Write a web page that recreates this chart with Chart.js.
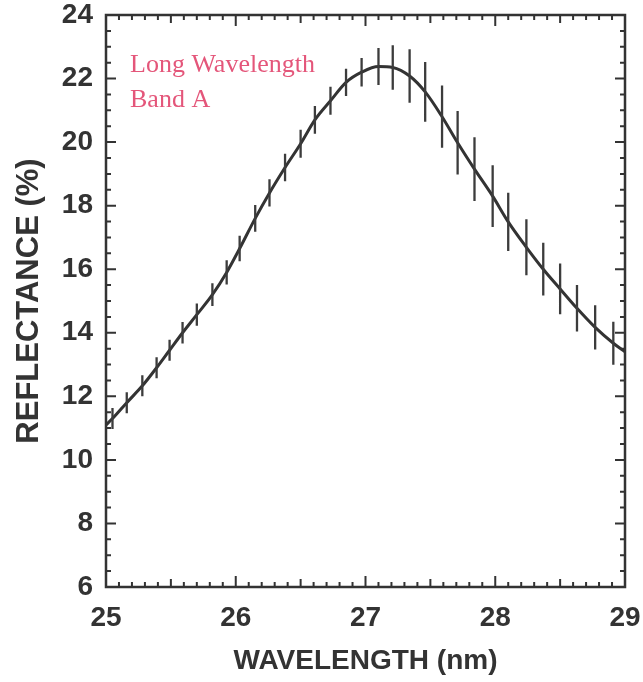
<!DOCTYPE html>
<html>
<head>
<meta charset="utf-8">
<script src="https://cdn.jsdelivr.net/npm/chart.js@4.4.0/dist/chart.umd.min.js"></script>
<style>
    html, body { margin: 0; padding: 0; background: #fff; }
    #wrap { width: 643px; height: 682px; }
</style>
</head>
<body>
<div id="wrap"><canvas id="chart" width="643" height="682"></canvas></div>
<script>
// 측정점 (파장 nm, 반사율 %, 오차 ±%)
const wavelength = [
    25.05, 25.16, 25.28, 25.39, 25.49, 25.59, 25.70, 25.82, 25.93, 26.03,
    26.15, 26.26, 26.38, 26.50, 26.61, 26.73, 26.85, 26.97, 27.10, 27.21,
    27.34, 27.46, 27.59, 27.71, 27.84, 27.98, 28.10, 28.24, 28.37, 28.50,
    28.63, 28.77, 28.91
];
const reflectance = [
    11.30, 11.80, 12.33, 12.90, 13.45, 14.00, 14.57, 15.20, 15.90, 16.65,
    17.60, 18.40, 19.20, 19.95, 20.70, 21.30, 21.88, 22.20, 22.38, 22.35,
    22.08, 21.58, 20.80, 19.98, 19.15, 18.30, 17.49, 16.69, 16.00, 15.38,
    14.77, 14.17, 13.67
];
const errHalf = [
    0.33, 0.33, 0.33, 0.33, 0.33, 0.34, 0.35, 0.36, 0.38, 0.40,
    0.42, 0.43, 0.43, 0.44, 0.44, 0.44, 0.43, 0.45, 0.58, 0.70,
    0.84, 0.94, 0.98, 1.00, 1.00, 0.97, 0.92, 0.88, 0.83, 0.80,
    0.73, 0.70, 0.68
];
// 곡선 양 끝 (축 경계에서 읽은 값)
const curveStart = { x: 25.0, y: 11.10 };
const curveEnd = { x: 29.0, y: 13.40 };

// 축 눈금
const xTickValues = [25, 26, 27, 28, 29];
const yTickValues = [6, 8, 10, 12, 14, 16, 18, 20, 22, 24];
const xMinorStep = 0.1;
const yMinorStep = 0.5;

const noteLines = ['Long Wavelength', 'Band A'];

const INK = '#333333';
const SANS = "'Liberation Sans', Arial, sans-serif";

// 테두리와 안쪽 눈금
const frameTicks = {
    id: 'frameTicks',
    afterDraw(chart) {
        const { ctx, chartArea: a, scales: { x, y } } = chart;
        ctx.save();
        ctx.strokeStyle = INK;
        ctx.lineWidth = 2;
        ctx.beginPath();
        const nx = Math.round((x.max - x.min) / xMinorStep);
        for (let i = 0; i <= nx; i++) {
            const px = x.getPixelForValue(x.min + i * xMinorStep);
            const len = i % 10 === 0 ? 11 : (i % 5 === 0 ? 8 : 5);
            ctx.moveTo(px, a.bottom); ctx.lineTo(px, a.bottom - len);
            ctx.moveTo(px, a.top); ctx.lineTo(px, a.top + len);
        }
        const ny = Math.round((y.max - y.min) / yMinorStep);
        for (let i = 0; i <= ny; i++) {
            const py = y.getPixelForValue(y.min + i * yMinorStep);
            const len = i % 4 === 0 ? 10 : 5;
            ctx.moveTo(a.left, py); ctx.lineTo(a.left + len, py);
            ctx.moveTo(a.right, py); ctx.lineTo(a.right - len, py);
        }
        ctx.stroke();
        ctx.lineWidth = 2.5;
        ctx.strokeRect(a.left, a.top, a.right - a.left, a.bottom - a.top);

        // 주석 텍스트
        ctx.fillStyle = '#e4567a';
        ctx.font = "26px 'Liberation Serif', 'Times New Roman', serif";
        ctx.textAlign = 'left';
        ctx.textBaseline = 'alphabetic';
        noteLines.forEach((t, i) => ctx.fillText(t, a.left + 24, a.top + 57 + i * 35));
        ctx.restore();
    }
};

// 오차 막대
const errorBars = {
    id: 'errorBars',
    afterDatasetsDraw(chart) {
        const { ctx, scales: { x, y } } = chart;
        ctx.save();
        ctx.strokeStyle = '#3c3c3c';
        ctx.lineWidth = 2.3;
        ctx.beginPath();
        wavelength.forEach((w, i) => {
            const px = x.getPixelForValue(w);
            ctx.moveTo(px, y.getPixelForValue(reflectance[i] - errHalf[i]));
            ctx.lineTo(px, y.getPixelForValue(reflectance[i] + errHalf[i]));
        });
        ctx.stroke();
        ctx.restore();
    }
};

const curveData = [curveStart]
    .concat(wavelength.map((w, i) => ({ x: w, y: reflectance[i] })))
    .concat([curveEnd]);

new Chart(document.getElementById('chart'), {
    type: 'scatter',
    data: {
        datasets: [{
            data: curveData,
            showLine: true,
            borderColor: INK,
            borderWidth: 3,
            pointRadius: 0,
            cubicInterpolationMode: 'monotone',
            fill: false
        }]
    },
    options: {
        responsive: false,
        animation: false,
        devicePixelRatio: 1,
        layout: { padding: { left: 0, top: 15, right: 18, bottom: 0 } },
        plugins: { legend: { display: false }, tooltip: { enabled: false } },
        scales: {
            x: {
                type: 'linear',
                min: 25,
                max: 29,
                afterBuildTicks: s => { s.ticks = xTickValues.map(v => ({ value: v })); },
                afterFit: s => { s.height = 95; s.paddingLeft = 0; s.paddingRight = 0; },
                grid: { display: false, drawTicks: false, tickLength: 0 },
                border: { display: false },
                ticks: {
                    color: INK,
                    padding: 14,
                    maxRotation: 0,
                    font: { family: SANS, size: 28, weight: 'bold' }
                },
                title: {
                    display: true,
                    text: 'WAVELENGTH (nm)',
                    color: INK,
                    padding: { top: 0, bottom: 4 },
                    font: { family: SANS, size: 28, weight: 'bold' }
                }
            },
            y: {
                min: 6,
                max: 24,
                afterBuildTicks: s => { s.ticks = yTickValues.map(v => ({ value: v })); },
                afterFit: s => { s.width = 106; s.paddingTop = 0; s.paddingBottom = 0; },
                grid: { display: false, drawTicks: false, tickLength: 0 },
                border: { display: false },
                ticks: {
                    color: INK,
                    padding: 13,
                    font: { family: SANS, size: 28, weight: 'bold' }
                },
                title: {
                    display: true,
                    text: 'REFLECTANCE (%)',
                    color: INK,
                    padding: { top: 11, bottom: 0 },
                    font: { family: SANS, size: 31, weight: 'bold' }
                }
            }
        }
    },
    plugins: [errorBars, frameTicks]
});
</script>
</body>
</html>
